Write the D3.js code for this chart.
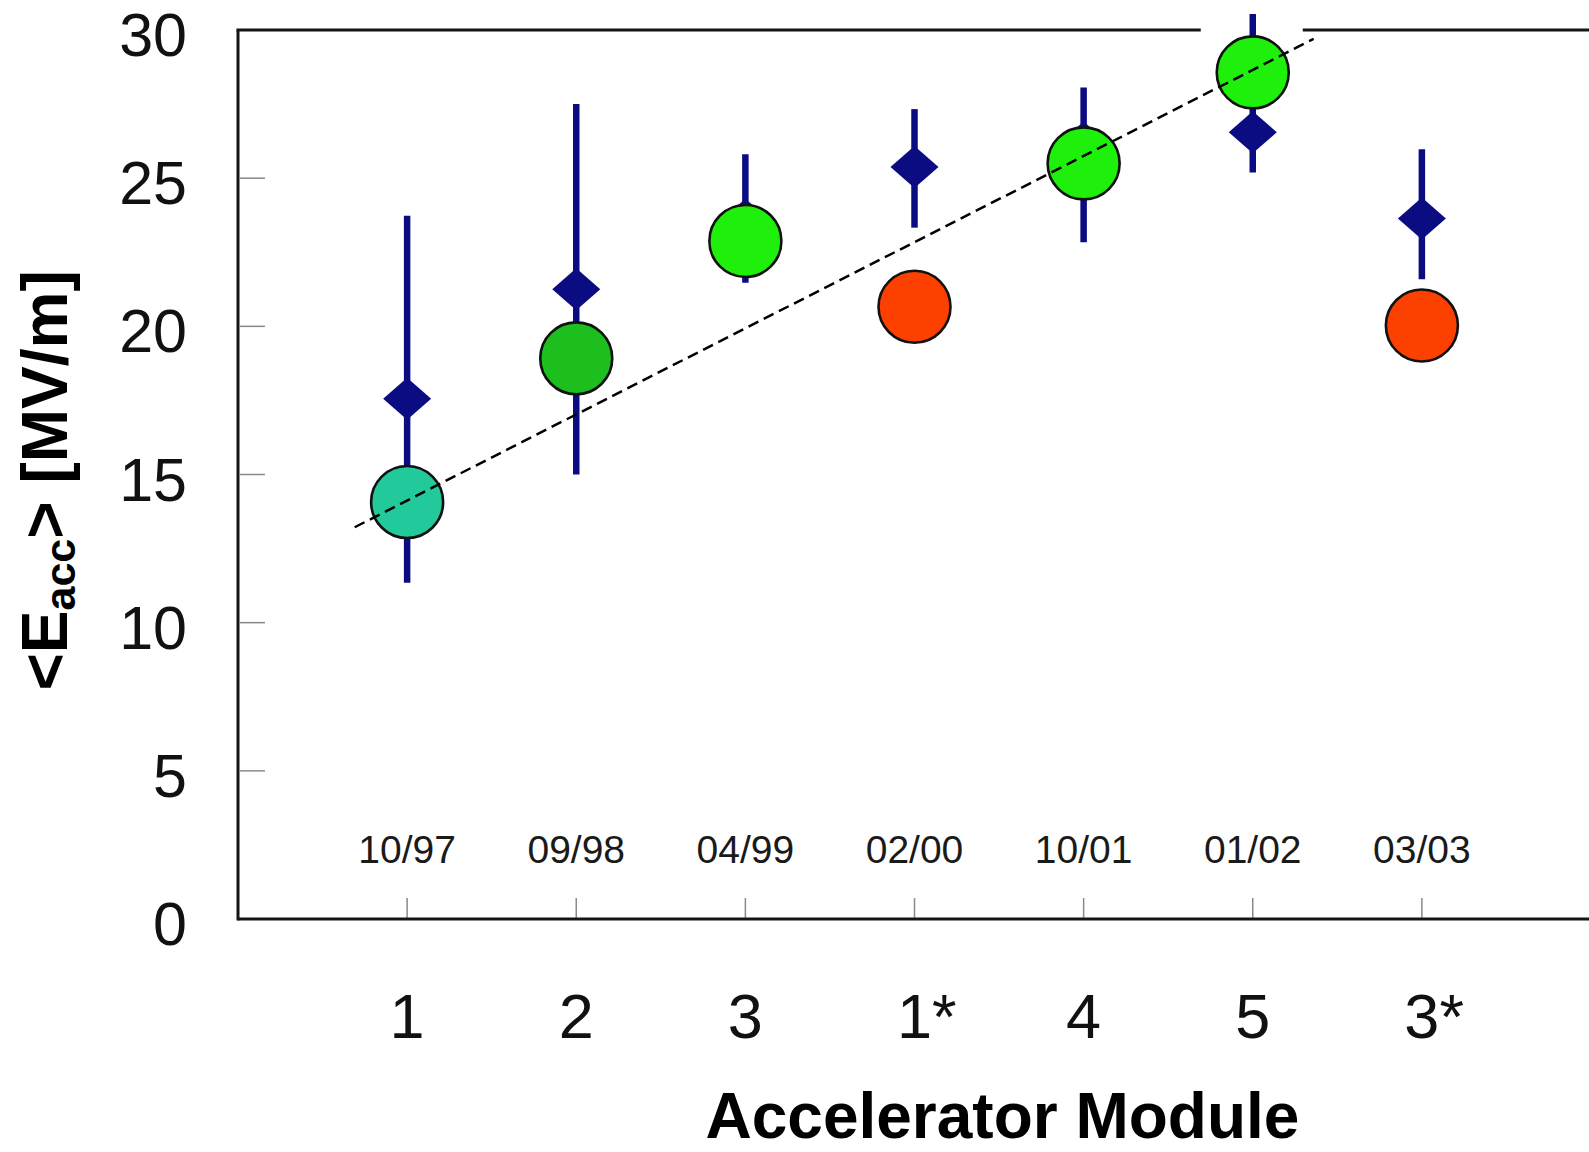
<!DOCTYPE html>
<html>
<head>
<meta charset="utf-8">
<script src="https://cdn.jsdelivr.net/npm/d3@7/dist/d3.min.js"></script>
<style>
  html, body { margin: 0; padding: 0; background: #fff; }
  svg { display: block; font-family: "Liberation Sans", Arial, Helvetica, sans-serif; }
</style>
</head>
<body>
<svg id="chart" width="1589" height="1152"></svg>
<script>
// Accelerator modules in order of test, with their test dates
const modules = ["1", "2", "3", "1*", "4", "5", "3*"];
const testDates = ["10/97", "09/98", "04/99", "02/00", "10/01", "01/02", "03/03"];

// Average gradient of the individual cavities (diamonds) with spread
const cavityMean = [17.56, 21.25, 23.6, 25.38, 26.2, 26.55, 23.64];
const cavityLow  = [11.35, 15.0, 21.47, 23.33, 22.84, 25.19, 21.59];
const cavityHigh = [23.73, 27.5, 25.81, 27.33, 28.06, 30.54, 25.98];

// Gradient reached by the complete module (circles)
const moduleGradient = [14.07, 18.92, 22.88, 20.66, 25.5, 28.57, 20.03];
const moduleColor = ["#22c99b", "#1cbf1e", "#1ef00c", "#fb4000", "#1ef00c", "#1ef00c", "#fb4000"];

// Linear trend through the module results (module position, gradient)
const trendStart = [0.69, 13.22];
const trendEnd = [6.36, 29.70];

const yTicks = [0, 5, 10, 15, 20, 25, 30];

const svg = d3.select("#chart");

const x = d3.scaleLinear().domain([0, 8]).range([238, 1591]);
const y = d3.scaleLinear().domain([0, 30]).range([919, 30]);

const pos = i => x(i + 1);

// Inner tick marks
const g = svg.append("g");
g.selectAll("line.ytick").data(yTicks.filter(v => v > 0 && v < 30)).join("line")
  .attr("x1", x(0) + 2).attr("x2", x(0) + 27)
  .attr("y1", d => y(d)).attr("y2", d => y(d))
  .attr("stroke", "#8a8a8a").attr("stroke-width", 1.5);
g.selectAll("line.xtick").data(modules).join("line")
  .attr("x1", (d, i) => pos(i)).attr("x2", (d, i) => pos(i))
  .attr("y1", y(0) - 21).attr("y2", y(0))
  .attr("stroke", "#8a8a8a").attr("stroke-width", 1.5);

// Frame: left, bottom and top (top is interrupted around module 5)
const frame = svg.append("g").attr("stroke", "#151515").attr("stroke-width", 3).attr("fill", "none");
frame.append("line").attr("x1", x(0)).attr("x2", x(0)).attr("y1", y(30)).attr("y2", y(0) + 1.5);
frame.append("line").attr("x1", x(0)).attr("x2", 1589).attr("y1", y(0)).attr("y2", y(0));
frame.append("line").attr("x1", x(0) - 1.5).attr("x2", pos(5) - 52).attr("y1", y(30)).attr("y2", y(30));
frame.append("line").attr("x1", pos(5) + 50).attr("x2", 1589).attr("y1", y(30)).attr("y2", y(30));

// Y tick labels
svg.append("g").selectAll("text").data(yTicks).join("text")
  .attr("x", 187).attr("y", d => y(d) + 26)
  .attr("text-anchor", "end")
  .attr("font-size", 61).attr("fill", "#111")
  .text(d => d);

// Test dates inside the plot
svg.append("g").selectAll("text").data(testDates).join("text")
  .attr("x", (d, i) => pos(i)).attr("y", 863)
  .attr("text-anchor", "middle")
  .attr("font-size", 39).attr("fill", "#1a1a1a")
  .text(d => d);

// Module labels: number centred under the tick, asterisk trailing
const modG = svg.append("g");
modules.forEach((m, i) => {
  const num = m.replace("*", "");
  const t = modG.append("text")
    .attr("x", pos(i)).attr("y", 1038)
    .attr("text-anchor", "middle")
    .attr("font-size", 63).attr("fill", "#111")
    .text(num);
  if (m.endsWith("*")) {
    const w = t.node().getComputedTextLength();
    modG.append("text")
      .attr("x", pos(i) + w / 2).attr("y", 1038)
      .attr("font-size", 63).attr("fill", "#111")
      .text("*");
  }
});

// Axis titles
svg.append("text")
  .attr("x", x(4.52)).attr("y", 1138)
  .attr("text-anchor", "middle")
  .attr("font-size", 64).attr("font-weight", "bold").attr("fill", "#000")
  .text("Accelerator Module");

const yt = svg.append("text")
  .attr("transform", `translate(67, ${y(14.8)}) rotate(-90)`)
  .attr("text-anchor", "middle")
  .attr("font-size", 64).attr("font-weight", "bold").attr("fill", "#000");
yt.append("tspan").text("<E");
yt.append("tspan").attr("font-size", 43).attr("dy", 8).text("acc");
yt.append("tspan").attr("dy", -8).text("> [MV/m]");

// Cavity spread bars and means
const cav = svg.append("g");
cav.selectAll("line").data(modules).join("line")
  .attr("x1", (d, i) => pos(i)).attr("x2", (d, i) => pos(i))
  .attr("y1", (d, i) => y(cavityLow[i])).attr("y2", (d, i) => y(cavityHigh[i]))
  .attr("stroke", "#0b0b82").attr("stroke-width", 6.5);
cav.selectAll("path").data(modules).join("path")
  .attr("d", (d, i) => {
    const cx = pos(i), cy = y(cavityMean[i]);
    return `M${cx - 24},${cy} L${cx},${cy - 21} L${cx + 24},${cy} L${cx},${cy + 21} Z`;
  })
  .attr("fill", "#0b0b82");

// Module results
svg.append("g").selectAll("circle").data(modules).join("circle")
  .attr("cx", (d, i) => pos(i))
  .attr("cy", (d, i) => y(moduleGradient[i]))
  .attr("r", 36)
  .attr("fill", (d, i) => moduleColor[i])
  .attr("stroke", "#111").attr("stroke-width", 2.6);

// Trend line
svg.append("line")
  .attr("x1", x(trendStart[0])).attr("y1", y(trendStart[1]))
  .attr("x2", x(trendEnd[0])).attr("y2", y(trendEnd[1]))
  .attr("stroke", "#000").attr("stroke-width", 2.5)
  .attr("stroke-dasharray", "11 6");
</script>
</body>
</html>
